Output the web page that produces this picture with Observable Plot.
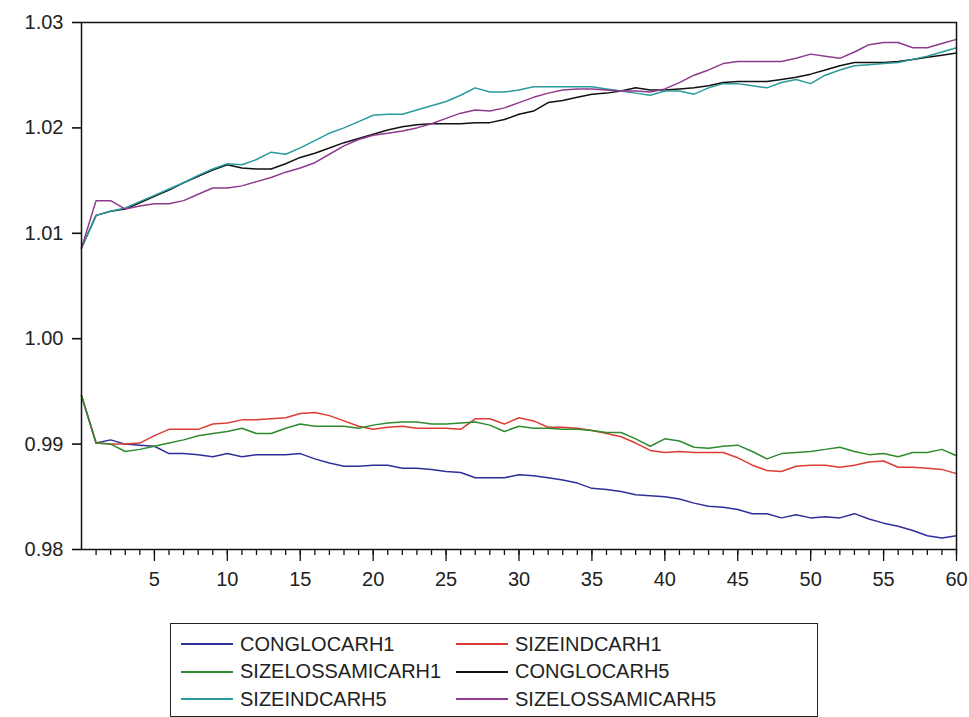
<!DOCTYPE html>
<html>
<head>
<meta charset="utf-8">
<script src="https://cdn.jsdelivr.net/npm/d3@7"></script>
<script src="https://cdn.jsdelivr.net/npm/@observablehq/plot@0.6"></script>
<style>
  html, body { margin: 0; padding: 0; background: #fff; }
  #wrap { position: relative; width: 969px; height: 717px; overflow: hidden; font-family: "Liberation Sans", Arial, sans-serif; }
  #chart { position: absolute; left: 0; top: 0; }
  #legend { position: absolute; left: 170px; top: 623px; width: 646px; height: 92px; border: 1px solid #222; box-sizing: content-box; }
  .item { position: absolute; height: 28px; display: flex; align-items: center; font-size: 20px; color: #222; white-space: nowrap; }
  .item span.sw { display: inline-block; width: 52px; height: 2px; margin-right: 7px; }
</style>
</head>
<body>
<div id="wrap">
  <div id="chart"></div>
  <div id="legend"></div>
</div>
<script>
// ---- data ----
const periods = Array.from({length: 61}, (_, i) => i);
const seriesNames = ["CONGLOCARH1", "SIZEINDCARH1", "SIZELOSSAMICARH1", "CONGLOCARH5", "SIZEINDCARH5", "SIZELOSSAMICARH5"];
const seriesColors = ["#2f2f9a", "#dc3c34", "#2e8b2e", "#111111", "#2b9a9a", "#8e3a8e"];
const xTickLabels = [5, 10, 15, 20, 25, 30, 35, 40, 45, 50, 55, 60];
const yTickLabels = [0.98, 0.99, 1.00, 1.01, 1.02, 1.03];

const CONGLOCARH1 = [0.9946,0.9901,0.9904,0.9900,0.9899,0.9898,0.9891,0.9891,0.9890,0.9888,0.9891,0.9888,0.9890,0.9890,0.9890,0.9891,0.9886,0.9882,0.9879,0.9879,0.9880,0.9880,0.9877,0.9877,0.9876,0.9874,0.9873,0.9868,0.9868,0.9868,0.9871,0.9870,0.9868,0.9866,0.9863,0.9858,0.9857,0.9855,0.9852,0.9851,0.9850,0.9848,0.9844,0.9841,0.9840,0.9838,0.9834,0.9834,0.9830,0.9833,0.9830,0.9831,0.9830,0.9834,0.9829,0.9825,0.9822,0.9818,0.9813,0.9811,0.9813];
const SIZEINDCARH1 = [0.9946,0.9901,0.9900,0.9900,0.9901,0.9908,0.9914,0.9914,0.9914,0.9919,0.9920,0.9923,0.9923,0.9924,0.9925,0.9929,0.9930,0.9927,0.9922,0.9917,0.9914,0.9916,0.9917,0.9915,0.9915,0.9915,0.9914,0.9924,0.9924,0.9919,0.9925,0.9922,0.9916,0.9916,0.9915,0.9913,0.9910,0.9907,0.9901,0.9894,0.9892,0.9893,0.9892,0.9892,0.9892,0.9887,0.9880,0.9875,0.9874,0.9879,0.9880,0.9880,0.9878,0.9880,0.9883,0.9884,0.9878,0.9878,0.9877,0.9876,0.9872];
const SIZELOSSAMICARH1 = [0.9946,0.9901,0.9900,0.9893,0.9895,0.9898,0.9901,0.9904,0.9908,0.9910,0.9912,0.9915,0.9910,0.9910,0.9915,0.9919,0.9917,0.9917,0.9917,0.9915,0.9918,0.9920,0.9921,0.9921,0.9919,0.9919,0.9920,0.9921,0.9918,0.9912,0.9917,0.9915,0.9915,0.9914,0.9914,0.9913,0.9911,0.9911,0.9905,0.9898,0.9905,0.9903,0.9897,0.9896,0.9898,0.9899,0.9893,0.9886,0.9891,0.9892,0.9893,0.9895,0.9897,0.9893,0.9890,0.9891,0.9888,0.9892,0.9892,0.9895,0.9889];
const CONGLOCARH5 = [1.0086,1.0117,1.0121,1.0123,1.0129,1.0135,1.0141,1.0148,1.0154,1.0160,1.0165,1.0162,1.0161,1.0161,1.0166,1.0172,1.0176,1.0181,1.0186,1.0190,1.0194,1.0198,1.0201,1.0203,1.0204,1.0204,1.0204,1.0205,1.0205,1.0208,1.0213,1.0216,1.0224,1.0226,1.0229,1.0232,1.0233,1.0235,1.0238,1.0236,1.0236,1.0237,1.0238,1.0240,1.0243,1.0244,1.0244,1.0244,1.0246,1.0248,1.0251,1.0255,1.0259,1.0262,1.0262,1.0262,1.0263,1.0265,1.0267,1.0269,1.0271];
const SIZEINDCARH5 = [1.0086,1.0117,1.0121,1.0124,1.0130,1.0136,1.0142,1.0148,1.0155,1.0161,1.0166,1.0165,1.0170,1.0177,1.0175,1.0181,1.0188,1.0195,1.0200,1.0206,1.0212,1.0213,1.0213,1.0217,1.0221,1.0225,1.0231,1.0238,1.0234,1.0234,1.0236,1.0239,1.0239,1.0239,1.0239,1.0239,1.0237,1.0235,1.0233,1.0231,1.0235,1.0235,1.0232,1.0238,1.0242,1.0242,1.0240,1.0238,1.0243,1.0246,1.0242,1.0250,1.0255,1.0259,1.0260,1.0261,1.0262,1.0265,1.0268,1.0272,1.0276];
const SIZELOSSAMICARH5 = [1.0086,1.0131,1.0131,1.0123,1.0126,1.0128,1.0128,1.0131,1.0137,1.0143,1.0143,1.0145,1.0149,1.0153,1.0158,1.0162,1.0167,1.0175,1.0183,1.0189,1.0193,1.0195,1.0197,1.0200,1.0204,1.0209,1.0214,1.0217,1.0216,1.0219,1.0224,1.0229,1.0233,1.0236,1.0237,1.0237,1.0236,1.0235,1.0235,1.0234,1.0237,1.0243,1.0250,1.0255,1.0261,1.0263,1.0263,1.0263,1.0263,1.0266,1.0270,1.0268,1.0266,1.0272,1.0279,1.0281,1.0281,1.0276,1.0276,1.0280,1.0284];

const seriesValues = [CONGLOCARH1, SIZEINDCARH1, SIZELOSSAMICARH1, CONGLOCARH5, SIZEINDCARH5, SIZELOSSAMICARH5];

// long table for Plot
const rows = [];
seriesNames.forEach((name, s) => {
  periods.forEach((p, i) => rows.push({series: name, period: p, value: seriesValues[s][i]}));
});

const FONT = "'Liberation Sans', Arial, sans-serif";

const chart = Plot.plot({
  width: 969,
  height: 600,
  marginLeft: 81,
  marginRight: 13,
  marginTop: 22,
  marginBottom: 51,
  style: {fontFamily: FONT, fontSize: "20px", color: "#222", background: "#fff"},
  x: {domain: [0, 60]},
  y: {domain: [0.98, 1.03]},
  color: {domain: seriesNames, range: seriesColors},
  marks: [
    Plot.axisX({ticks: periods.filter(p => p > 0), tickSize: 6, tickFormat: () => "", stroke: "#111", strokeWidth: 1.3, label: null}),
    Plot.axisX({ticks: xTickLabels, tickSize: 12, tickPadding: 10, tickFormat: d => String(d), stroke: "#111", strokeWidth: 1.3, fontSize: 20, label: null}),
    Plot.axisY({ticks: yTickLabels, tickSize: 9, tickPadding: 9, tickFormat: d3.format(".2f"), stroke: "#111", strokeWidth: 1.6, fontSize: 20, label: null}),
    Plot.line(rows, {x: "period", y: "value", z: "series", stroke: "series", strokeWidth: 1.5, curve: "linear"}),
    Plot.frame({stroke: "#111", strokeWidth: 1.5})
  ]
});
document.getElementById("chart").appendChild(chart);

// legend below the SVG
const legend = document.getElementById("legend");
const colLeft = [10, 285];
seriesNames.forEach((name, i) => {
  const col = i % 2, row = Math.floor(i / 2);
  const div = document.createElement("div");
  div.className = "item";
  div.style.left = colLeft[col] + "px";
  div.style.top = (6 + row * 27.5) + "px";
  const sw = document.createElement("span");
  sw.className = "sw";
  sw.style.background = seriesColors[i];
  div.appendChild(sw);
  div.appendChild(document.createTextNode(name));
  legend.appendChild(div);
});
</script>
</body>
</html>
